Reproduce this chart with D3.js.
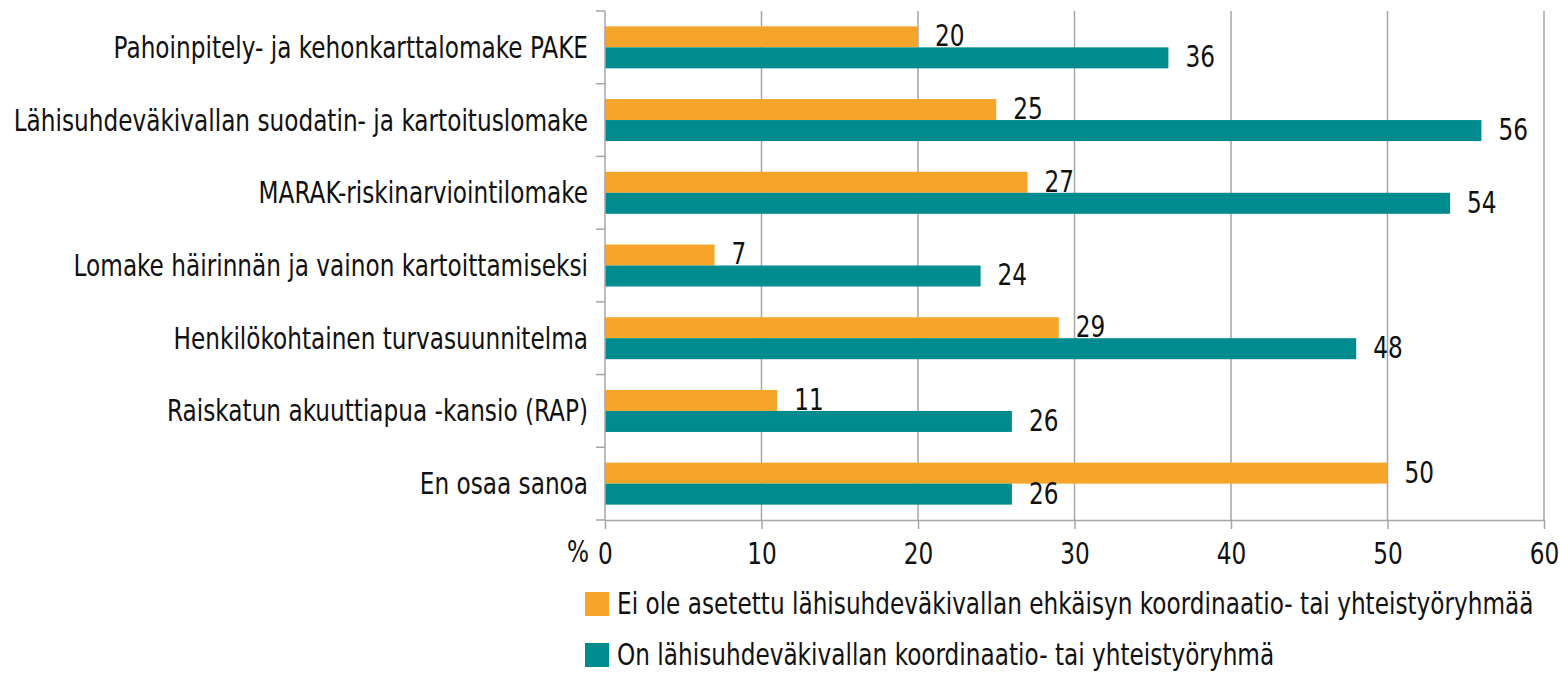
<!DOCTYPE html>
<html lang="fi">
<head>
    <meta charset="UTF-8">
    <title>Lomakkeet</title>
    <script src="https://d3js.org/d3.v7.min.js"></script>
    <style>
        body { margin: 0; background: #fff; }
        svg text {
            font-family: "Liberation Sans Narrow", "DejaVu Sans Condensed", "Roboto Condensed", sans-serif;
            fill: #111;
        }
        .grid line { stroke: #a6a6a6; stroke-width: 1.5; }
        .axis path, .axis line { stroke: #a6a6a6; stroke-width: 1.5; }
    </style>
</head>
<body>
    <svg width="1560" height="675" id="chart"></svg>
    <script>
        // data
        const categories = [
            "Pahoinpitely- ja kehonkarttalomake PAKE",
            "Lähisuhdeväkivallan suodatin- ja kartoituslomake",
            "MARAK-riskinarviointilomake",
            "Lomake häirinnän ja vainon kartoittamiseksi",
            "Henkilökohtainen turvasuunnitelma",
            "Raiskatun akuuttiapua -kansio (RAP)",
            "En osaa sanoa"
        ];
        const noGroup = [20, 25, 27, 7, 29, 11, 50];
        const hasGroup = [36, 56, 54, 24, 48, 26, 26];
        const seriesNames = [
            "Ei ole asetettu lähisuhdeväkivallan ehkäisyn koordinaatio- tai yhteistyöryhmää",
            "On lähisuhdeväkivallan koordinaatio- tai yhteistyöryhmä"
        ];
        const xTicks = [0, 10, 20, 30, 40, 50, 60];
        const colors = ["#f5a52a", "#008b8f"];

        const plotL = 605, plotR = 1544, plotT = 11, plotB = 520;
        const fs = 30;        // font size
        const squeeze = 0.86; // the original font is a condensed one
        const svg = d3.select("#chart");

        const x = d3.scaleLinear().domain([0, 60]).range([plotL, plotR]);
        const y = d3.scaleBand().domain(categories).range([plotT, plotB]);
        const barH = 21;

        // vertical grid
        svg.append("g").attr("class", "grid")
            .selectAll("line").data(xTicks.slice(1)).join("line")
            .attr("x1", d => x(d)).attr("x2", d => x(d))
            .attr("y1", plotT).attr("y2", plotB);

        // bars
        const series = [noGroup, hasGroup];
        series.forEach((vals, si) => {
            const g = svg.append("g");
            g.selectAll("rect").data(categories).join("rect")
                .attr("x", x(0))
                .attr("y", d => y(d) + y.bandwidth() / 2 - barH + si * barH)
                .attr("width", (d, i) => x(vals[i]) - x(0))
                .attr("height", barH)
                .attr("fill", colors[si]);
            g.selectAll("text").data(categories).join("text")
                .attr("x", (d, i) => x(vals[i]) + 17)
                .attr("y", d => y(d) + y.bandwidth() / 2 - barH / 2 + si * barH - 1)
                .attr("dy", "0.35em")
                .attr("font-size", fs)
                .text((d, i) => vals[i]);
        });

        // y axis
        const yAxis = svg.append("g").attr("class", "axis")
            .attr("transform", `translate(${plotL},0)`);
        yAxis.append("line").attr("x1", 0).attr("x2", 0).attr("y1", plotT).attr("y2", plotB);
        const yb = categories.map(c => y(c)).concat([plotB]);
        yAxis.selectAll(".tk").data(yb).join("line").attr("class", "tk")
            .attr("x1", -9).attr("x2", 0).attr("y1", d => d).attr("y2", d => d);
        yAxis.selectAll("text").data(categories).join("text")
            .attr("x", -17)
            .attr("y", d => y(d) + y.bandwidth() / 2)
            .attr("dy", "0.35em")
            .attr("text-anchor", "end")
            .attr("font-size", fs)
            .text(d => d);

        // x axis
        const xAxis = svg.append("g").attr("class", "axis")
            .attr("transform", `translate(0,${plotB})`)
            .call(d3.axisBottom(x).tickValues(xTicks).tickSize(9).tickSizeOuter(0).tickPadding(14));
        xAxis.selectAll("text").attr("font-size", fs).attr("fill", "#111");
        xAxis.select(".domain").attr("stroke", "#a6a6a6");
        svg.append("text").attr("x", 578).attr("y", plotB + 32)
            .attr("dy", "0.35em").attr("text-anchor", "middle")
            .attr("font-size", fs).text("%");

        // legend
        const lg = svg.append("g");
        seriesNames.forEach((name, i) => {
            const ly = 604 + i * 51;
            lg.append("rect").attr("x", 585).attr("y", ly - 12)
                .attr("width", 24).attr("height", 24).attr("fill", colors[i]);
            lg.append("text").attr("x", 617).attr("y", ly)
                .attr("dy", "0.35em").attr("font-size", fs).text(name);
        });

        // narrow every text like the condensed original (scale around its anchor)
        svg.selectAll("text").each(function () {
            const ax = +this.getAttribute("x") || 0;
            d3.select(this).attr("transform",
                `translate(${ax},0) scale(${squeeze},1) translate(${-ax},0)`);
        });
    </script>
</body>
</html>
